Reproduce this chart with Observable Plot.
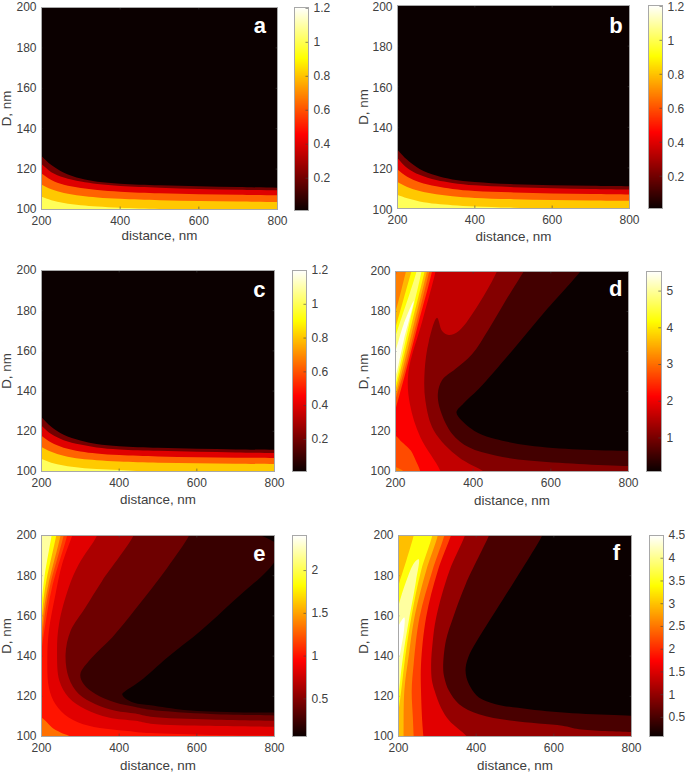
<!DOCTYPE html>
<html>
<head>
<meta charset="utf-8">
<script src="https://cdn.jsdelivr.net/npm/d3@7"></script>
<script src="https://cdn.jsdelivr.net/npm/@observablehq/plot@0.6"></script>
<style>
html,body{margin:0;padding:0;background:#fff;overflow:hidden}
#page{position:relative;width:685px;height:773px;overflow:hidden;background:#fff}
#page svg{position:absolute;background:transparent;overflow:visible}
</style>
</head>
<body>
<div id="page"></div>
<script>
// ---- axis ticks
const distanceTicks = [200, 400, 600, 800];
const diameterTicks = [100, 120, 140, 160, 180, 200];
const barTicks12 = [0.2, 0.4, 0.6, 0.8, 1, 1.2];
const barTicksD = [1, 2, 3, 4, 5];
const barTicksE = [0.5, 1, 1.5, 2];
const barTicksF = [0.5, 1, 1.5, 2, 2.5, 3, 3.5, 4, 4.5];

// points outside the frame that close a filled contour region
const outRight = [[900, 90], [100, 90], [100, 210]];
const outLeft = [[100, 90], [100, 210]];

// ---- contour bands: value of each band, and its outer edge as [distance, D]
const levelsA = [0.2, 0.4, 0.63, 0.81, 1.01];
const contoursA = [
  [[200,126.5],[225,122],[257,118.2],[300,115.3],[342,113.7],[400,112.8],[500,112],[600,111.5],[700,111.1],[800,110.8]],
  [[200,122.5],[225,118.5],[257,115.8],[300,113.8],[342,112.6],[400,111.6],[500,110.8],[600,110.2],[700,109.8],[800,109.5]],
  [[200,117.8],[225,114.6],[257,112.2],[300,110.6],[342,109.6],[400,108.8],[500,108],[600,107.6],[700,107.3],[800,107]],
  [[200,112.4],[225,110],[257,108.2],[300,106.8],[342,106],[400,105.3],[500,104.6],[600,104.2],[700,103.9],[800,103.7]],
  [[200,106.3],[225,104.6],[257,103.2],[300,102.1],[342,101.5],[400,100.9],[500,100.3],[600,99.9],[800,99.5]]
];
const levelsB = [0.2, 0.4, 0.63, 0.81, 1.01];
const contoursB = [
  [[200,129],[225,124],[257,119.5],[300,116.2],[342,114.3],[400,113.1],[500,112],[600,111.5],[700,111.2],[800,111]],
  [[200,124.8],[225,120],[257,116.6],[300,114],[342,112.6],[400,111.4],[500,110.5],[600,110],[700,109.6],[800,109.3]],
  [[200,119.2],[225,115.6],[257,112.9],[300,110.9],[342,109.6],[400,108.6],[500,107.9],[600,107.4],[700,107.1],[800,106.9]],
  [[200,113],[225,110.6],[257,108.6],[300,107],[342,106],[400,105.2],[500,104.6],[600,104.2],[700,104],[800,103.8]],
  [[200,106.6],[225,105],[257,103.5],[300,102.3],[342,101.6],[400,101],[500,100.4],[600,100],[800,99.6]]
];
const levelsC = [0.2, 0.4, 0.63, 0.81, 1.01];
const contoursC = [
  [[200,127],[225,122.3],[257,118.3],[300,115.4],[342,113.7],[400,112.6],[500,111.8],[600,111.3],[700,111],[800,110.8]],
  [[200,122.8],[225,118.6],[257,115.6],[300,113.4],[342,112],[400,111],[500,110.3],[600,109.8],[700,109.5],[800,109.2]],
  [[200,117.8],[225,114.4],[257,111.8],[300,110],[342,109],[400,108.2],[500,107.5],[600,107.1],[700,106.9],[800,106.7]],
  [[200,112.2],[225,109.8],[257,107.8],[300,106.3],[342,105.6],[400,105],[500,104.4],[600,104.1],[700,103.9],[800,103.7]],
  [[200,106.2],[225,104.4],[257,103],[300,101.9],[342,101.2],[400,100.7],[450,100.2],[500,99.9],[800,99.4]]
];
const levelsD = [0.56, 1.1, 1.62, 2.1, 2.73, 2.73, 3.14, 3.14, 3.6, 4.15, 4.8, 5.45];
const contoursD = [
  [[690,204],[676,200],[586,180.2],[500,160.3],[414,141.2],[375,134],[357,129.6],[371,125.4],[414,119.1],[457,116.3],[543,113],[671,111],[800,110.3],[830,110.2],...outRight],
  [[545,205],[530,200],[483,185.2],[440,171.1],[397,158.6],[354,151.2],[320,145.7],[309,138.7],[316,130.4],[346,118.8],[389,112.1],[457,108],[543,105.5],[671,103.8],[800,102.7],[830,102.5],...outRight],
  [[470,205],[461,200],[414,183.6],[363,170.3],[337,168.3],[320,170.3],[307,176.9],[286,165.3],[275,150.3],[277,135.4],[299,120.4],[363,107.1],[427,100],[445,97],...outLeft],
  [[312,210],[303,200],[269,175.2],[233,149.3],[237,133.7],[264,117.1],[316,100],[325,92],...outLeft],
  [[299,206],[294,200],[260,175],[227,150.3],[200,131],[185,120],[100,120],[100,210]],
  [[185,118.6],[200,117.9],[217,114.6],[232,112],[241,110],[251,106],[264,100],[270,92],[100,90],[100,119]],
  [[294,206],[287,200],[255,175],[222,150],[200,136],[185,125],[150,150],[185,192],[200,197.5],[204,201],[212,208]],
  [[190,103.5],[200,102.3],[221,100],[230,92],[150,92]],
  [[287,206],[281,200],[249,175],[217,150],[200,138],[185,128],[150,160],[185,172],[200,180],[227,200],[235,206]],
  [[281,206],[275,200],[243,175],[212,150],[200,141],[190,133],[160,155],[190,165],[200,171.8],[241,200],[250,206]],
  [[272,206],[267,200],[237,175],[208,150],[200,143.5],[190,137],[170,155],[190,161],[200,167.6],[254,200],[260,206]],
  [[247,185.2],[221,165.3],[204,150.3],[200,147.8],[190,140],[175,150],[190,155],[200,160.3],[221,173.6]]
];
const levelsE = [0.225, 0.42, 0.64, 0.835, 1.01, 1.16, 1.33, 1.33, 1.55, 1.82, 2.19];
const contoursE = [
  [[810,195],[800,187],[695,167.5],[610,152.6],[524,139.3],[455,127.7],[417,122.7],[408,121.1],[413,119.4],[438,116.8],[481,115.5],[567,113.2],[635,112.4],[720,112],[800,111.9],[830,111.8],...outRight],
  [[590,205],[580,200],[524,184],[442,163.4],[382,149.3],[330,139.3],[300,131],[309,126],[339,121.1],[390,116.9],[442,114.7],[481,113.3],[635,111.2],[800,110.5],[830,110.4],...outRight],
  [[447,206],[437,200],[356,177.4],[313,164.2],[275,152.6],[262,141],[270,129.4],[296,121.1],[339,116.1],[390,112.8],[442,111.4],[481,109.8],[635,108.5],[800,107.8],[830,107.7],...outRight],
  [[352,206],[343,200],[296,185.7],[270,174.1],[245,155.9],[240,142.6],[246,127.7],[270,119.4],[313,113.6],[373,109.5],[442,107.8],[481,106.4],[635,105.3],[800,104.8],[830,104.7],...outRight],
  [[288,206],[279,200],[253,185.7],[236,170.8],[219,152.6],[215,139.3],[219,124.4],[236,116.1],[270,109.5],[322,105.3],[442,102.3],[481,101.7],[635,100.8],[800,100.4],[830,100.3],...outRight],
  [[272,206],[266,200],[227,174],[210,156],[200,143],[190,130],[150,170],[190,210]],
  [[190,111],[200,109.5],[210,107.8],[227,104.5],[249,102],[275,99.8],[290,96],[190,90],[150,100]],
  [[262,206],[257,200],[222,175],[208,160],[200,147],[190,135],[150,170],[190,210]],
  [[254,206],[249,200],[218,176],[206,163],[200,152],[190,140],[150,170],[190,210]],
  [[243,206],[238,200],[213,178],[205,168],[200,158],[190,145],[150,170],[190,210]],
  [[231,206],[226,200],[208,180],[200,166.7],[190,150],[150,170],[190,210]]
];
const levelsF = [0.5, 1.02, 1.54, 2.16, 2.57, 2.98, 3.44, 4.09, 4.5];
const contoursF = [
  [[580,205],[570,200],[510,180.8],[450,162.5],[407,149.3],[383,141],[373,134.3],[375,129.4],[386,124.4],[407,119.4],[450,116.1],[536,113.6],[665,111.4],[800,110.3],[830,110.1],...outRight],
  [[443,205],[433,200],[373,175.8],[342,160],[322,147.6],[315,134.3],[318,129.4],[330,122.7],[356,116.1],[407,111.1],[493,107.8],[622,105.3],[665,103.6],[800,102.2],[830,102],...outRight],
  [[380,206],[371,200],[331,182.4],[297,159.2],[288,147],[284,136],[286,128],[293,122.7],[310,114],[331,107.8],[376,100],[390,96],...outLeft],
  [[345,206],[335,200],[301,182.4],[271,159.2],[258,136],[258,122.7],[261,107.8],[264,100],[266,94],...outLeft],
  [[325,206],[318,200],[287,182.4],[254,159.2],[239,136],[234,122.7],[237,109.5],[239,100],[240,94],...outLeft],
  [[306,206],[301,200],[271,182.4],[241,159.2],[227,141],[215,122.7],[213,100],[212,94],...outLeft],
  [[292,206],[287,200],[258,182.4],[233,159.2],[215,136],[207,122.7],[200,112.8],[190,104],[150,140],[190,165],[200,175],[220,187.4],[239,200],[245,206]],
  [[252,188.2],[245,177.4],[228,159.2],[215,144.3],[207,132.7],[200,121],[190,112],[170,140],[190,155],[200,165],[220,177.4],[241,186.6]],
  [[215,159.2],[214,152.6],[207,144.3],[200,137.6],[188,130],[180,145],[200,155],[207,157.5]]
];

// ---- panel order and page layout
const panelNames = ["a", "b", "c", "d", "e", "f"];
const panelLevels = [levelsA, levelsB, levelsC, levelsD, levelsE, levelsF];
const panelContours = [contoursA, contoursB, contoursC, contoursD, contoursE, contoursF];
const panelBelow = [true, true, true, false, false, false];
const barDomains = [[0.01, 1.205], [0.01, 1.205], [0.01, 1.2], [0.086, 5.534], [0.06, 2.41], [0.08, 4.5]];
const barTicks = [barTicks12, barTicks12, barTicks12, barTicksD, barTicksE, barTicksF];
const letterX = [755, 765, 761, 767, 761, 761];
const letterD = [190.7, 190, 190.5, 191.3, 191, 191.5];
const frameBoxes = [[41,7,236,202],[397,5,232,203],[41,270,233,201],[395,271,233,200],[41,535,233,201],[398,535,233,201]];
const barBoxes = [[294,7,14,203],[648,5,14,203],[292,270,14,201],[646,271,15,200],[292,535,14,201],[649,535,14,201]];
const xLabelOffsets = [30, 32, 32, 33, 33.5, 33.5];
const yLabelOffsets = [40, 39, 40, 37, 40, 40];
const tickNudges = [0, 1.2, 0, 0, 0, 0];

const INK = "#404040", EDGE = "#a8a8a8", FONT = "'Liberation Sans', Arial, sans-serif";

// MATLAB "hot" colormap
function hot(t) {
  const c = v => Math.max(0, Math.min(1, v));
  const r = c(0.0416 + (t / 0.375) * 0.9584), g = c((t - 0.375) / 0.375), b = c((t - 0.75) / 0.25);
  return d3.rgb(r * 255, g * 255, b * 255).formatHex();
}
const colorScale = domain => ({type: "linear", domain, interpolate: hot, clamp: true});

// a region "below" a curve that spans the whole frame
function regionBelow(c) {
  const [x0, y0] = c[0], [x1, y1] = c[1], last = c[c.length - 1];
  return [[185, y0 + (y0 - y1) * 0.6], ...c, [830, last[1]], [900, 90], [100, 90]];
}

const page = document.getElementById("page");
const place = (svg, left, top) => { svg.style.left = left + "px"; svg.style.top = top + "px"; page.appendChild(svg); };

panelNames.forEach((name, p) => {
  const [L, T, W, H] = frameBoxes[p];
  const domain = barDomains[p];
  const rows = panelContours[p].flatMap((c, i) =>
    (panelBelow[p] ? regionBelow(c) : c).map(([x, y]) => ({x, y, i, level: panelLevels[p][i]})));
  const mL = 41, mR = 6, mT = 8, mB = 37;
  const chart = Plot.plot({
    width: W + mL + mR, height: H + mT + mB,
    marginLeft: mL, marginRight: mR, marginTop: mT, marginBottom: mB,
    style: {fontFamily: FONT, fontSize: "12px", color: INK, background: "transparent"},
    x: {domain: [200, 800]},
    y: {domain: [100, 200]},
    color: colorScale(domain),
    marks: [
      Plot.rect([domain[0]], {x1: 200, x2: 800, y1: 100, y2: 200, fill: d => d}),
      Plot.line(rows, {x: "x", y: "y", z: "i", fill: "level", stroke: "none", curve: "catmull-rom-closed", clip: true}),
      Plot.ruleX(distanceTicks, {x: d => d, y1: 100, y2: 101.2, stroke: INK, strokeWidth: 0.6}),
      Plot.ruleX(distanceTicks, {x: d => d, y1: 198.8, y2: 200, stroke: INK, strokeWidth: 0.6}),
      Plot.ruleY(diameterTicks, {y: d => d, x1: 200, x2: 203.5, stroke: INK, strokeWidth: 0.6}),
      Plot.ruleY(diameterTicks, {y: d => d, x1: 796.5, x2: 800, stroke: INK, strokeWidth: 0.6}),
      Plot.frame({stroke: EDGE, strokeWidth: 1}),
      Plot.axisX({ticks: distanceTicks, tickSize: 0, tickPadding: 7, fontSize: 12, label: "distance, nm", labelAnchor: "center", labelArrow: "none", labelOffset: xLabelOffsets[p], tickFormat: d => String(d)}),
      Plot.axisY({ticks: diameterTicks, tickSize: 0, tickPadding: 5, fontSize: 12, dy: tickNudges[p], label: "D, nm", labelAnchor: "center", labelArrow: "none", labelOffset: yLabelOffsets[p], tickFormat: d => String(d)}),
      Plot.text([name], {x: letterX[p], y: letterD[p], text: d => d, fill: "white", fontWeight: "bold", fontSize: 22, fontFamily: FONT})
    ]
  });
  chart.querySelectorAll('[aria-label="x-axis label"] text, [aria-label="y-axis label"] text').forEach(t => t.style.fontSize = "13.4px");
  place(chart, L - mL, T - mT);

  // colour bar
  const [bL, bT, bW, bH] = barBoxes[p];
  const bR = 30;
  const bar = Plot.plot({
    width: bW + bR, height: bH + 16,
    marginLeft: 0, marginRight: bR, marginTop: 8, marginBottom: 8,
    style: {fontFamily: FONT, fontSize: "12px", color: INK, background: "transparent"},
    x: {domain: [0, 1], axis: null},
    y: {domain},
    color: colorScale(domain),
    marks: [
      Plot.raster({x1: 0, x2: 1, y1: domain[0], y2: domain[1], width: 1, height: 256, fill: (x, y) => y}),
      Plot.ruleY(barTicks[p], {x1: 0.82, x2: 1, y: d => d, stroke: INK, strokeWidth: 0.6}),
      Plot.frame({stroke: EDGE, strokeWidth: 1}),
      Plot.axisY({anchor: "right", ticks: barTicks[p], tickSize: 0, tickPadding: 5, fontSize: 12, dy: tickNudges[p], label: null, tickFormat: d => String(d)})
    ]
  });
  place(bar, bL, bT - 8);
});
</script>
</body>
</html>
